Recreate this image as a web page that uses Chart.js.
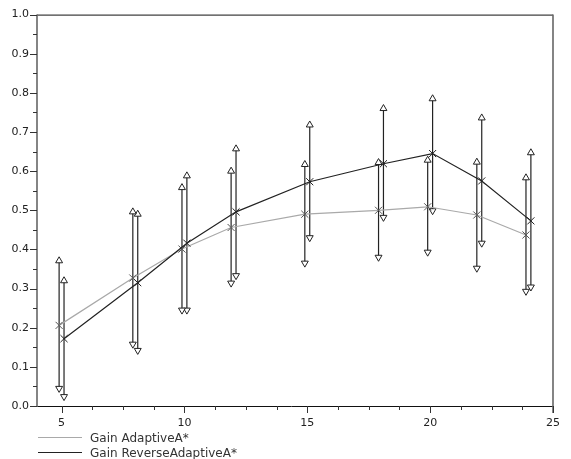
<!DOCTYPE html>
<html>
<head>
<meta charset="utf-8">
<script src="https://cdn.jsdelivr.net/npm/chart.js@4/dist/chart.umd.min.js"></script>
<style>
  html, body { margin: 0; padding: 0; background: #fff; }
  #wrap { position: relative; width: 571px; height: 459px; }
  #legend { position: absolute; left: 38px; top: 430px; font-family: "DejaVu Sans", sans-serif; font-size: 12px; color: #333; }
  .row { display: flex; align-items: center; height: 15px; }
  .swatch { display: inline-block; width: 44px; height: 0; margin-right: 8px; }
</style>
</head>
<body>
<div id="wrap">
  <canvas id="c" width="571" height="459"></canvas>
  <div id="legend"></div>
</div>
<script>
// ---- data ----
const xValues = [5, 8, 10, 12, 15, 18, 20, 22, 24];
const adaptiveMean = [0.206, 0.327, 0.401, 0.456, 0.490, 0.500, 0.509, 0.488, 0.437];
const adaptiveHigh = [0.371, 0.496, 0.558, 0.600, 0.617, 0.622, 0.628, 0.623, 0.583];
const adaptiveLow  = [0.045, 0.158, 0.245, 0.314, 0.365, 0.380, 0.393, 0.352, 0.293];
const reverseMean  = [0.172, 0.315, 0.416, 0.496, 0.573, 0.619, 0.645, 0.575, 0.473];
const reverseHigh  = [0.320, 0.490, 0.588, 0.657, 0.718, 0.760, 0.785, 0.736, 0.647];
const reverseLow   = [0.024, 0.142, 0.245, 0.333, 0.430, 0.482, 0.499, 0.416, 0.304];
const seriesLabels = ['Gain AdaptiveA*', 'Gain ReverseAdaptiveA*'];
const xTickValues = [5, 6.25, 7.5, 8.75, 10, 11.25, 12.5, 13.75, 15, 16.25, 17.5, 18.75, 20, 21.25, 22.5, 23.75, 25];
const xTickLabels = ['5', '10', '15', '20', '25'];
const yTickValues = [0, 0.05, 0.1, 0.15, 0.2, 0.25, 0.3, 0.35, 0.4, 0.45, 0.5, 0.55, 0.6, 0.65, 0.7, 0.75, 0.8, 0.85, 0.9, 0.95, 1.0];
const yTickLabels = ['0.0', '0.1', '0.2', '0.3', '0.4', '0.5', '0.6', '0.7', '0.8', '0.9', '1.0'];

// ---- styling constants ----
const xShift = 0.1;
const colors = { adaptiveLine: '#a9a9a9', adaptiveMark: '#555', reverseLine: '#222', reverseMark: '#222', bar: '#222' };
const FONT = '"DejaVu Sans", sans-serif';

function meanData(mean, shift) {
  return xValues.map((x, i) => ({ x: x + shift, y: mean[i] }));
}
function barData(high, low, shift) {
  const out = [];
  xValues.forEach((x, i) => {
    out.push({ x: x + shift, y: high[i] });
    out.push({ x: x + shift, y: low[i] });
    out.push({ x: x + shift, y: null });
  });
  return out;
}
function barDataset(high, low, shift) {
  return {
    label: 'bars',
    data: barData(high, low, shift),
    showLine: true,
    spanGaps: false,
    borderColor: colors.bar,
    borderWidth: 1.2,
    pointStyle: 'triangle',
    pointRadius: ctx => (ctx.dataIndex % 3 === 2 ? 0 : 4),
    pointRotation: ctx => (ctx.dataIndex % 3 === 1 ? 180 : 0),
    pointBackgroundColor: '#fff',
    pointBorderColor: colors.bar,
    pointBorderWidth: 1,
    order: 3
  };
}

const isMajorX = v => Math.abs(v / 5 - Math.round(v / 5)) < 1e-6;
const isMajorY = v => Math.abs(v * 10 - Math.round(v * 10)) < 1e-6;

const framePlugin = {
  id: 'frame',
  afterDraw(chart) {
    const { ctx, chartArea: a, scales: { x, y } } = chart;
    ctx.save();
    ctx.lineWidth = 1;
    ctx.strokeStyle = '#111';
    ctx.beginPath(); ctx.moveTo(a.left, a.top + 0.5); ctx.lineTo(a.right, a.top + 0.5); ctx.stroke();
    ctx.beginPath(); ctx.moveTo(a.left - 7, a.bottom + 0.5); ctx.lineTo(a.right, a.bottom + 0.5); ctx.stroke();
    ctx.strokeStyle = '#666';
    ctx.lineWidth = 1.6;
    ctx.beginPath(); ctx.moveTo(a.left, a.top); ctx.lineTo(a.left, a.bottom + 1); ctx.stroke();
    ctx.beginPath(); ctx.moveTo(a.right, a.top); ctx.lineTo(a.right, a.bottom + 7); ctx.stroke();
    ctx.lineWidth = 1;
    ctx.strokeStyle = '#333';
    xTickValues.forEach(v => {
      const px = Math.round(x.getPixelForValue(v)) + 0.5;
      const len = isMajorX(v) ? 7 : 4;
      ctx.beginPath(); ctx.moveTo(px, a.bottom); ctx.lineTo(px, a.bottom + len); ctx.stroke();
    });
    yTickValues.forEach(v => {
      const py = Math.round(y.getPixelForValue(v)) + 0.5;
      const len = isMajorY(v) ? 7 : 4;
      ctx.beginPath(); ctx.moveTo(a.left - len, py); ctx.lineTo(a.left, py); ctx.stroke();
    });
    ctx.restore();
  }
};

new Chart(document.getElementById('c'), {
  type: 'scatter',
  data: {
    datasets: [
      {
        label: seriesLabels[0],
        data: meanData(adaptiveMean, -xShift),
        showLine: true,
        borderColor: colors.adaptiveLine,
        borderWidth: 1.2,
        pointStyle: 'crossRot',
        pointRadius: 5,
        pointBorderColor: colors.adaptiveMark,
        pointBorderWidth: 1,
        order: 2
      },
      {
        label: seriesLabels[1],
        data: meanData(reverseMean, xShift),
        showLine: true,
        borderColor: colors.reverseLine,
        borderWidth: 1.2,
        pointStyle: 'crossRot',
        pointRadius: 5,
        pointBorderColor: colors.reverseMark,
        pointBorderWidth: 1,
        order: 1
      },
      barDataset(adaptiveHigh, adaptiveLow, -xShift),
      barDataset(reverseHigh, reverseLow, xShift)
    ]
  },
  options: {
    responsive: false,
    animation: false,
    devicePixelRatio: 1,
    layout: { padding: { top: 13, right: 18, left: 0, bottom: 0 } },
    plugins: { legend: { display: false }, tooltip: { enabled: false } },
    scales: {
      x: {
        type: 'linear',
        min: 4,
        max: 25,
        afterBuildTicks: s => { s.ticks = xTickValues.map(v => ({ value: v })); },
        afterFit: s => { s.height = 53; },
        grid: { display: false, drawTicks: false },
        border: { display: false },
        ticks: {
          autoSkip: false,
          maxRotation: 0,
          padding: 11,
          color: '#222',
          font: { family: FONT, size: 11 },
          callback: v => (isMajorX(v) ? xTickLabels[Math.round(v / 5) - 1] : '')
        }
      },
      y: {
        type: 'linear',
        min: 0,
        max: 1,
        afterBuildTicks: s => { s.ticks = yTickValues.map(v => ({ value: v })); },
        afterFit: s => { s.width = 37; },
        grid: { display: false, drawTicks: false },
        border: { display: false },
        ticks: {
          autoSkip: false,
          padding: 8,
          color: '#222',
          font: { family: FONT, size: 11 },
          callback: v => (isMajorY(v) ? yTickLabels[Math.round(v * 10)] : '')
        }
      }
    }
  },
  plugins: [framePlugin]
});

// HTML legend built from the series labels
const legendColors = [colors.adaptiveLine, colors.reverseLine];
const legend = document.getElementById('legend');
seriesLabels.forEach((lab, i) => {
  const row = document.createElement('div');
  row.className = 'row';
  const sw = document.createElement('span');
  sw.className = 'swatch';
  sw.style.borderTop = '1.2px solid ' + legendColors[i];
  const t = document.createElement('span');
  t.textContent = lab;
  row.appendChild(sw); row.appendChild(t);
  legend.appendChild(row);
});
</script>
</body>
</html>
